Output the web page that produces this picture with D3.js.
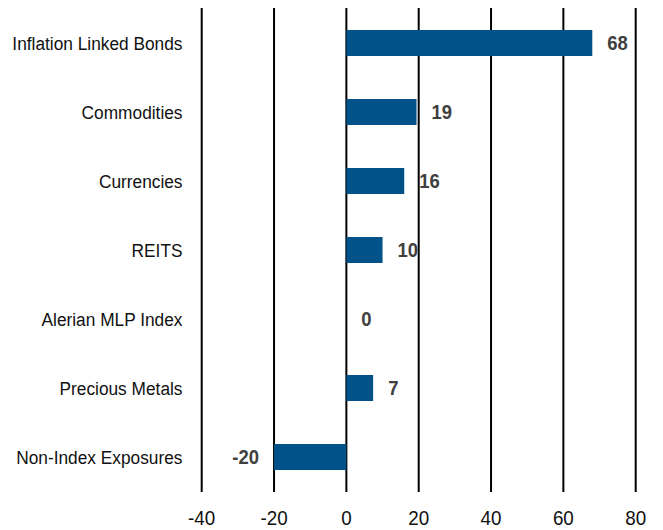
<!DOCTYPE html>
<html><head><meta charset="utf-8">
<script src="https://cdn.jsdelivr.net/npm/d3@7"></script>
<style>
body{margin:0;background:#fff;}
text{font-family:"Liberation Sans",Arial,sans-serif;}
</style></head>
<body><svg id="c" width="663" height="530"></svg>
<script>
const categories = ["Inflation Linked Bonds","Commodities","Currencies","REITS","Alerian MLP Index","Precious Metals","Non-Index Exposures"];
const values = [68, 19.4, 16, 10, 0, 7.4, -20];
const tickValues = [-40,-20,0,20,40,60,80];

const svg = d3.select("#c");
const x = d3.scaleLinear().domain([-40,80]).range([201.7,635.7]);
const y = d3.scaleBand().domain(categories).range([8.5,491.5]).paddingInner(0.62).paddingOuter(0.31);

function place(sel, fx, fy, sx){
  sel.attr("transform",(d,i)=>`translate(${fx(d,i)},${fy(d,i)}) scale(${sx},1)`);
}

// gridlines
svg.append("g").selectAll("line").data(tickValues).join("line")
  .attr("x1",d=>x(d)).attr("x2",d=>x(d)).attr("y1",8).attr("y2",492)
  .attr("stroke","#000").attr("stroke-width",2);

// tick labels
svg.append("g").selectAll("text").data(tickValues).join("text")
  .call(place, d=>x(d), ()=>525, 0.92).attr("text-anchor","middle")
  .attr("font-size",20.5).attr("fill","#111").text(d=>d);

const data = categories.map((c,i)=>({c,v:values[i]}));
svg.append("g").selectAll("rect").data(data.filter(d=>d.v!==0)).join("rect")
  .attr("x",d=>x(Math.min(0,d.v))).attr("width",d=>Math.abs(x(d.v)-x(0)))
  .attr("y",d=>y(d.c)+y.bandwidth()/2-13).attr("height",26)
  .attr("fill","#005288");

// value labels
svg.append("g").selectAll("text").data(data).join("text")
  .call(place, d=>d.v<0? x(d.v)-15 : x(d.v)+15, d=>y(d.c)+y.bandwidth()/2+7.3, 0.9)
  .attr("text-anchor",d=>d.v<0?"end":"start")
  .attr("font-size",20.5).attr("font-weight","bold").attr("fill","#404040")
  .text(d=>Math.round(d.v));

// category labels
svg.append("g").selectAll("text").data(categories).join("text")
  .call(place, ()=>182.5, d=>y(d)+y.bandwidth()/2+7.3, 0.93).attr("text-anchor","end")
  .attr("font-size",18.6).attr("fill","#111").text(d=>d);
</script></body></html>
